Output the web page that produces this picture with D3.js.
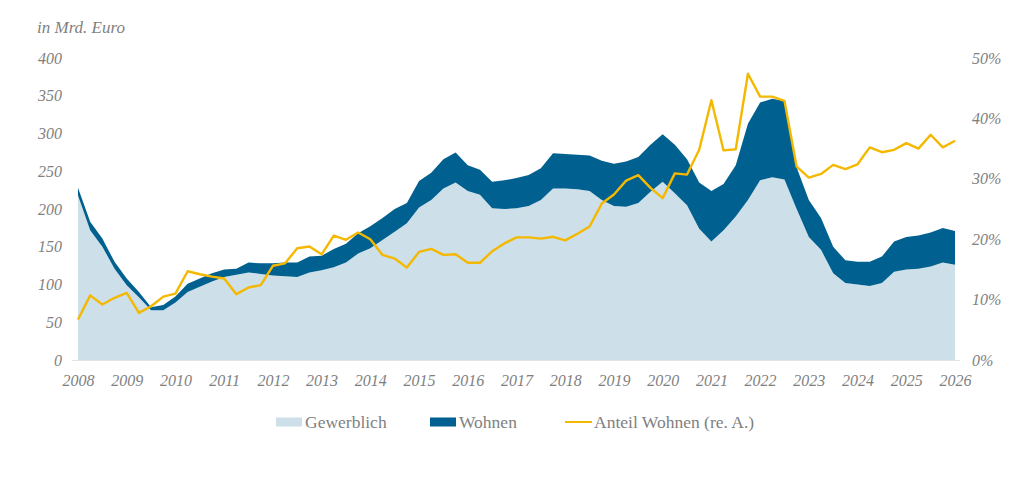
<!DOCTYPE html>
<html>
<head>
<meta charset="utf-8">
<script src="https://cdn.jsdelivr.net/npm/d3@7"></script>
<style>
  body { margin: 0; background: #fff; }
  svg text { font-family: "Liberation Serif", "DejaVu Serif", serif; fill: #7f7f7f; }
</style>
</head>
<body>
<svg id="chart" width="1024" height="493"></svg>
<script>
// Quartalswerte 2008 Q1 bis 2026 Q1
const quarters = d3.range(73).map(i => 2008 + i / 4);

const gewerblich = [218, 172, 150, 121, 99, 83, 66, 66, 76, 90, 97, 104,
  110, 113, 116, 114, 112, 111, 110, 116, 119, 123, 129, 141,
  148, 159, 170, 181, 202, 212, 227, 235, 224, 219, 201, 200,
  201, 204, 212, 227, 227, 226, 224, 212, 204, 203, 208, 223,
  236, 221, 205, 174, 157, 172, 190, 212, 238, 242, 239, 200,
  163, 146, 115, 102, 100, 98, 102, 117, 120, 121, 124, 129, 126];

const wohnen = [10, 11, 11, 9, 9, 7, 4, 7, 8, 11, 11, 11,
  10, 8, 13, 14, 16, 18, 19, 21, 19, 24, 25, 27,
  29, 29, 30, 27, 35, 36, 39, 40, 34, 33, 35, 38,
  40, 41, 42, 47, 46, 46, 47, 52, 56, 60, 61, 62,
  63, 64, 61, 61, 67, 61, 68, 101, 103, 104, 104, 55,
  49, 42, 35, 30, 30, 32, 35, 40, 43, 44, 45, 46, 45];

// Anteil Wohnen in %
const anteil = [6.7, 10.7, 9.2, 10.3, 11.1, 7.8, 8.9, 10.5, 11.0, 14.7, 14.2, 13.8,
  13.5, 10.9, 12.0, 12.4, 15.6, 16.0, 18.5, 18.8, 17.5, 20.6, 19.9, 21.1,
  20.0, 17.4, 16.8, 15.3, 17.9, 18.4, 17.4, 17.5, 16.1, 16.1, 18.0, 19.3,
  20.3, 20.3, 20.1, 20.4, 19.8, 20.9, 22.1, 25.9, 27.4, 29.7, 30.6, 28.5,
  26.8, 30.9, 30.7, 34.8, 43.0, 34.7, 34.9, 47.4, 43.6, 43.6, 42.9, 32.0,
  30.2, 30.8, 32.3, 31.6, 32.4, 35.2, 34.4, 34.8, 35.9, 35.0, 37.3, 35.2, 36.3];

const yearTicks = d3.range(2008, 2027);
const leftTicks = [0, 50, 100, 150, 200, 250, 300, 350, 400];
const rightTicks = [0, 10, 20, 30, 40, 50];

const colors = { gew: "#cddfe8", wohn: "#00608f", anteil: "#f5b800" };

const data = quarters.map((q, i) => ({
  q: q, gew: gewerblich[i], wohn: wohnen[i], anteil: anteil[i]
}));

const svg = d3.select("#chart");

const x = d3.scaleLinear().domain([2008, 2026]).range([78, 955]);
const y = d3.scaleLinear().domain([0, 400]).range([360, 58]);
const y2 = d3.scaleLinear().domain([0, 50]).range([360, 58]);

const areaGew = d3.area()
    .x(d => x(d.q))
    .y0(y(0))
    .y1(d => y(d.gew));

const areaWohn = d3.area()
    .x(d => x(d.q))
    .y0(d => y(d.gew))
    .y1(d => y(d.gew + d.wohn));

const line = d3.line()
    .x(d => x(d.q))
    .y(d => y2(d.anteil));

svg.append("path").datum(data)
    .attr("d", areaGew)
    .attr("fill", colors.gew);

svg.append("path").datum(data)
    .attr("d", areaWohn)
    .attr("fill", colors.wohn);

// baseline
svg.append("line")
    .attr("x1", 72).attr("x2", 960)
    .attr("y1", y(0) + 0.5).attr("y2", y(0) + 0.5)
    .attr("stroke", "#e3e3e3");

svg.append("path").datum(data)
    .attr("d", line)
    .attr("fill", "none")
    .attr("stroke", colors.anteil)
    .attr("stroke-width", 2.4)
    .attr("stroke-linejoin", "round");

// axes
const leftAxis = svg.append("g")
    .attr("transform", "translate(62,0)")
    .call(d3.axisLeft(y).tickValues(leftTicks).tickSize(0).tickPadding(0));
const rightAxis = svg.append("g")
    .attr("transform", "translate(972,0)")
    .call(d3.axisRight(y2).tickValues(rightTicks).tickSize(0).tickPadding(0)
      .tickFormat(d => d + "%"));
const bottomAxis = svg.append("g")
    .attr("transform", "translate(0,372)")
    .call(d3.axisBottom(x).tickValues(yearTicks).tickSize(0).tickPadding(0)
      .tickFormat(d3.format("d")));

[leftAxis, rightAxis, bottomAxis].forEach(g => {
  g.select(".domain").remove();
  g.selectAll("text")
      .attr("font-family", "Liberation Serif")
      .attr("font-style", "italic")
      .attr("font-size", 16)
      .attr("fill", "#7f7f7f");
});
bottomAxis.selectAll("text").attr("dy", "0.9em");

svg.append("text")
    .attr("x", 37).attr("y", 33)
    .attr("font-style", "italic")
    .attr("font-size", 17)
    .text("in Mrd. Euro");

// legend
const legendItems = [
  { label: "Gewerblich", type: "rect", color: colors.gew, x: 276 },
  { label: "Wohnen", type: "rect", color: colors.wohn, x: 430 },
  { label: "Anteil Wohnen (re. A.)", type: "line", color: colors.anteil, x: 565 }
];
const legend = svg.append("g").attr("transform", "translate(0,422)");
legendItems.forEach(d => {
  if (d.type === "rect") {
    legend.append("rect")
        .attr("x", d.x).attr("y", -4.5)
        .attr("width", 26).attr("height", 9)
        .attr("fill", d.color);
  } else {
    legend.append("line")
        .attr("x1", d.x).attr("x2", d.x + 27)
        .attr("y1", 0).attr("y2", 0)
        .attr("stroke", d.color).attr("stroke-width", 2);
  }
  legend.append("text")
      .attr("x", d.x + 29).attr("y", 5.5)
      .attr("font-size", 17.5)
      .text(d.label);
});
</script>
</body>
</html>
